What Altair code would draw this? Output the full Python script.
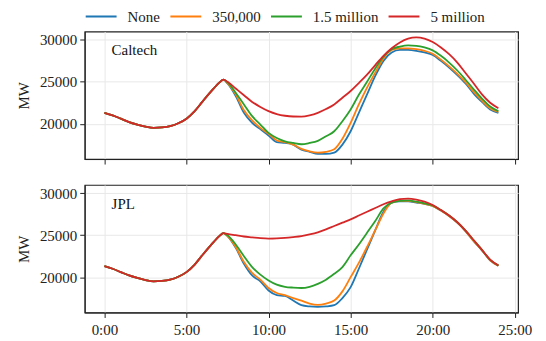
import altair as alt
import pandas as pd

hours = [0, 0.5, 1, 1.5, 2, 2.5, 3, 3.5, 4, 4.5, 5, 5.5, 6, 6.5, 7, 7.25,
         7.5, 8, 8.5, 9, 9.5, 10, 10.5, 11, 11.5, 12, 12.5, 13, 13.5, 14, 14.5,
         15, 15.5, 16, 16.5, 17, 17.5, 18, 18.5, 19, 19.5, 20, 20.5, 21, 21.5,
         22, 22.5, 23, 23.5, 24]

# shared morning part (0:00 - 7:15)
common = [21300, 21000, 20600, 20200, 19900, 19650, 19500, 19550, 19700, 20050,
          20600, 21500, 22700, 23850, 24900, 25250]

# Caltech, from 7:30 on
cal_none = [24800, 23300, 21300, 20100, 19350, 18600, 17800, 17700, 17500, 16900,
            16650, 16400, 16400, 16550, 17500, 19100, 21300, 23500, 25700, 27500,
            28500, 28800, 28800, 28700, 28500, 28200, 27500, 26700, 25800, 24800,
            23600, 22600, 21700, 21300]
cal_350k = [24850, 23500, 21600, 20400, 19500, 18800, 18000, 17800, 17500, 17000,
            16700, 16550, 16650, 16950, 18200, 20100, 22300, 24300, 26100, 27800,
            28800, 29000, 29000, 28900, 28700, 28350, 27650, 26850, 25950, 24950,
            23800, 22750, 21850, 21400]
cal_15m = [24950, 23700, 22300, 20900, 19900, 18900, 18300, 17900, 17700, 17550,
           17700, 17950, 18500, 19100, 20300, 21700, 23450, 25000, 26600, 28000,
           28900, 29200, 29350, 29300, 29100, 28750, 28100, 27300, 26350, 25250,
           24100, 23000, 22050, 21500]
cal_5m = [25000, 24200, 23400, 22600, 22000, 21500, 21150, 20950, 20860, 20850,
          21000, 21300, 21750, 22300, 23100, 23900, 24850, 25850, 27000, 28100,
          29000, 29700, 30150, 30300, 30150, 29750, 29100, 28300, 27300, 26050,
          24800, 23500, 22500, 21850]

# JPL, from 7:30 on
jpl_none = [24900, 23500, 21600, 20200, 19500, 18400, 17850, 17750, 17200, 16650,
            16500, 16450, 16500, 16650, 17500, 18800, 21000, 23300, 25600, 27800,
            28900, 29050, 29050, 28900, 28750, 28500, 27950, 27300, 26500, 25500,
            24300, 23200, 22000, 21350]
jpl_350k = [24900, 23600, 21800, 20500, 19700, 18700, 18100, 17850, 17500, 17200,
            16850, 16700, 16850, 17200, 18300, 20000, 21700, 23600, 25600, 27600,
            28900, 29100, 29100, 28950, 28750, 28500, 27950, 27300, 26500, 25500,
            24300, 23200, 22000, 21350]
jpl_15m = [25000, 23900, 22500, 21200, 20300, 19600, 19100, 18850, 18750, 18700,
           18850, 19200, 19700, 20400, 21200, 22600, 23900, 25300, 26700, 28200,
           28900, 29100, 29150, 29000, 28800, 28550, 28000, 27350, 26550, 25550,
           24400, 23250, 22050, 21400]
jpl_5m = [25150, 25000, 24850, 24750, 24650, 24600, 24620, 24680, 24780, 24900,
          25100, 25350, 25700, 26100, 26500, 26900, 27350, 27800, 28250, 28700,
          29050, 29300, 29370, 29250, 29000, 28600, 28000, 27350, 26550, 25550,
          24400, 23250, 22100, 21400]

series_names = ["None", "350,000", "1.5 million", "5 million"]
colors = ["#1f77b4", "#ff7f0e", "#2ca02c", "#d62728"]
x_ticks = [0, 5, 10, 15, 20, 25]
y_ticks = [20000, 25000, 30000]

FONT = "Liberation Serif"


def make_df(tails):
    rows = []
    for name, tail in zip(series_names, tails):
        vals = common + tail
        for h, v in zip(hours, vals):
            rows.append({"hour": h, "MW": v, "series": name})
    return pd.DataFrame(rows)


def panel(df, label, show_x_labels):
    layers = []
    for name in series_names:
        layers.append(
            alt.Chart(df).transform_filter(alt.datum.series == name)
            .mark_line(strokeWidth=1.8, interpolate="monotone")
            .encode(
                x=alt.X("hour:Q",
                        scale=alt.Scale(domain=[-1.2, 25.2], nice=False, zero=False),
                        axis=alt.Axis(values=x_ticks, labels=show_x_labels, title=None,
                                      labelPadding=5,
                                      labelExpr="datum.value + ':00'")),
                y=alt.Y("MW:Q",
                        scale=alt.Scale(domain=[15780, 31000], nice=False, zero=False),
                        axis=alt.Axis(values=y_ticks, format="d", title="MW")),
                color=alt.Color("series:N",
                                scale=alt.Scale(domain=series_names, range=colors),
                                legend=alt.Legend(orient="none", direction="horizontal",
                                                  legendX=0, legendY=-23, title=None,
                                                  symbolType="stroke", symbolSize=961,
                                                  symbolStrokeWidth=2, clipHeight=16,
                                                  labelFont=FONT, labelFontSize=15,
                                                  labelColor="#222",
                                                  columnPadding=9, labelOffset=10)),
            )
        )
    txt = alt.Chart(pd.DataFrame({"t": [label]})).mark_text(
        align="left", baseline="middle", font=FONT, fontSize=15, color="#111"
    ).encode(x=alt.value(27), y=alt.value(19), text="t:N")
    return alt.layer(*layers, txt).properties(width=435, height=128)


top = panel(make_df([cal_none, cal_350k, cal_15m, cal_5m]), "Caltech", False)
bottom = panel(make_df([jpl_none, jpl_350k, jpl_15m, jpl_5m]), "JPL", True)

chart = alt.vconcat(
    top, bottom, spacing=18,
    padding={"left": 7, "top": 0, "right": 5, "bottom": 5},
).configure_view(
    stroke="#222", strokeWidth=1.2
).configure_axis(
    labelFont=FONT, labelFontSize=15, labelColor="#222",
    titleFont=FONT, titleFontSize=15, titleFontWeight="normal", titleColor="#222",
    gridColor="#e8e8e8", gridWidth=1,
    domainColor="#222", tickColor="#222", tickSize=5, labelPadding=3,
    titlePadding=8,
)

chart.save("out.html", embed_options={"renderer": "svg", "actions": False})
